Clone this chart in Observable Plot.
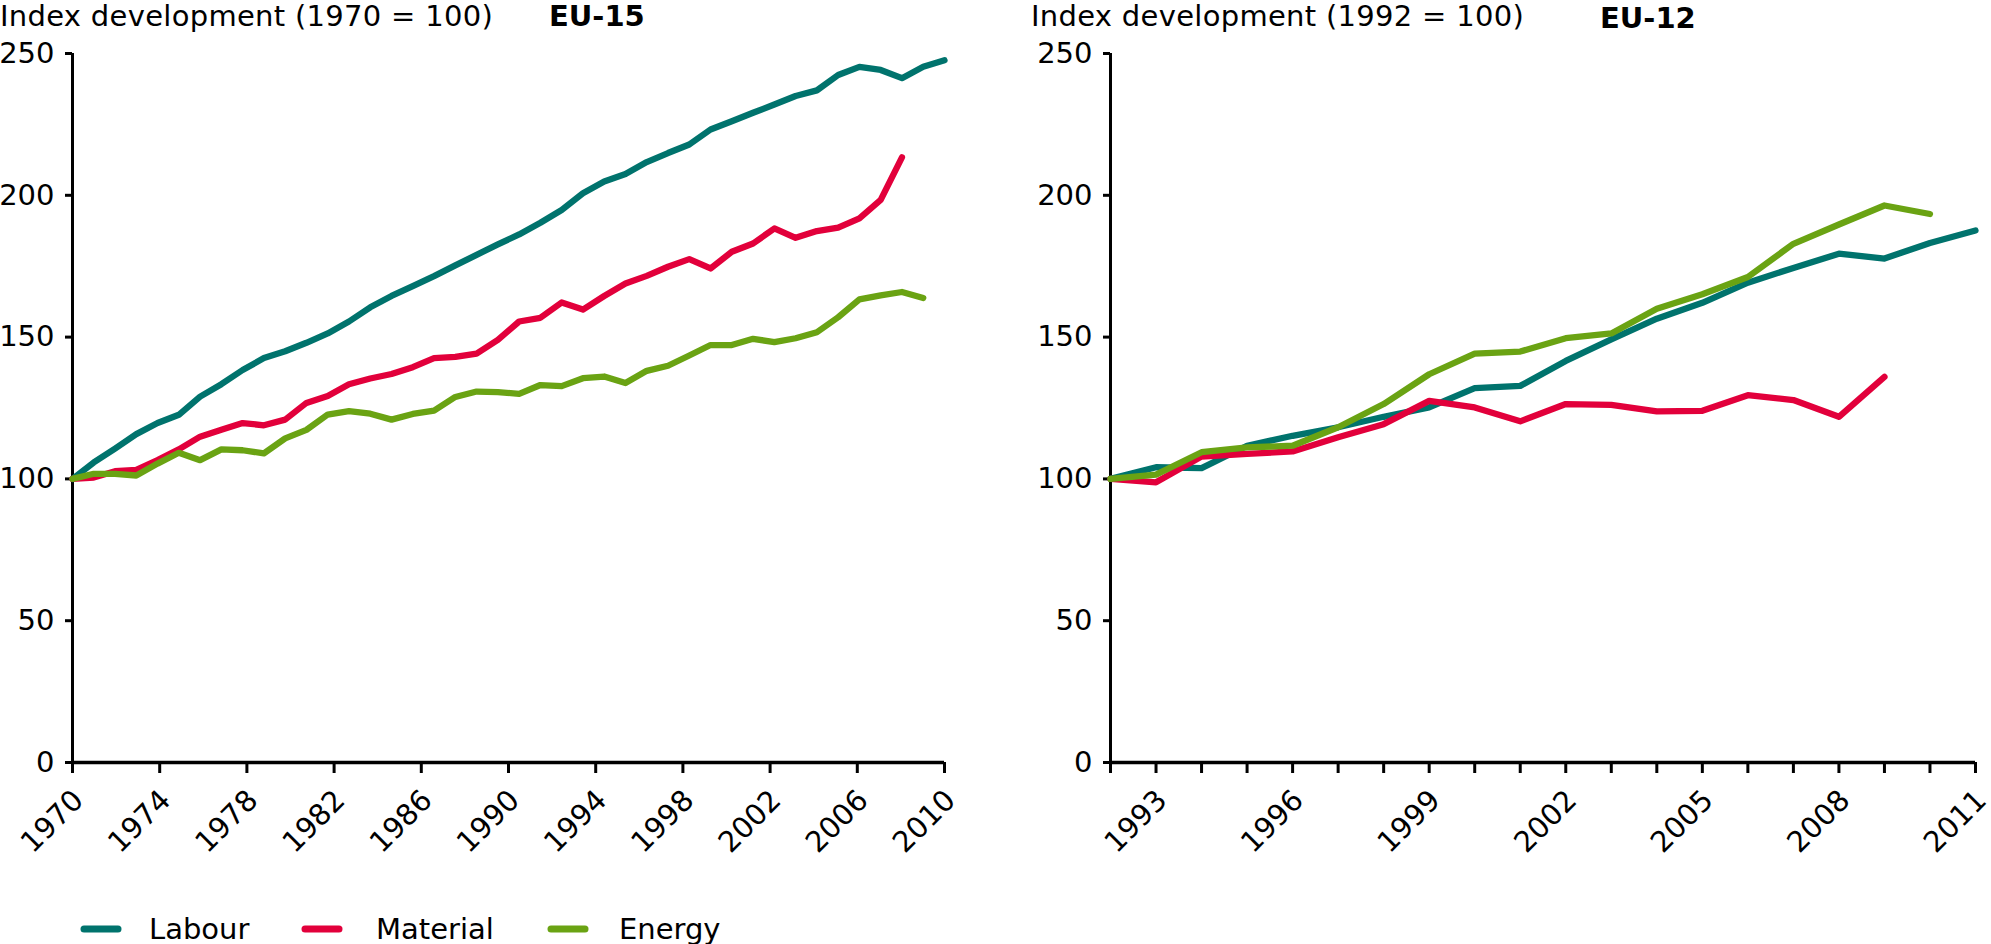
<!DOCTYPE html>
<html>
<head>
<meta charset="utf-8">
<script src="https://cdn.jsdelivr.net/npm/d3@7"></script>
<script src="https://cdn.jsdelivr.net/npm/@observablehq/plot@0.6"></script>
<style>
  html, body { margin: 0; padding: 0; background: #fff; }
  body { width: 1991px; height: 944px; overflow: hidden; position: relative; font-family: "DejaVu Sans", Verdana, sans-serif; }
  .abs { position: absolute; }
</style>
</head>
<body>
<div id="left" class="abs" style="left:0px;top:0px;"></div>
<div id="right" class="abs" style="left:1000px;top:0px;"></div>
<svg id="overlay" class="abs" width="1991" height="944" style="left:0;top:0;pointer-events:none;overflow:visible"></svg>
<script>
// ---------- data ----------
const seriesNames = ["Labour", "Material", "Energy"];
const seriesColors = ["#00736d", "#e2003b", "#6aa313"];

const yTicks = [0, 50, 100, 150, 200, 250];

// EU-15 (1970 = 100): observations spread evenly over the labelled span
const eu15Span = [1970, 2010];
const eu15TickLabels = [1970, 1974, 1978, 1982, 1986, 1990, 1994, 1998, 2002, 2006, 2010];
const eu15Labour = [100, 105.8, 110.7, 115.8, 119.7, 122.6, 129, 133.4, 138.4, 142.6,
  145, 148, 151.3, 155.5, 160.5, 164.5, 168, 171.5, 175.3, 179,
  182.7, 186.2, 190.3, 194.8, 200.7, 204.9, 207.5, 211.7, 214.9, 217.9,
  223.2, 226.1, 229.1, 232, 235, 237, 242.4, 245.3, 244.2, 241.3,
  245.3, 247.6];
const eu15Material = [100, 100.5, 102.7, 103.2, 106.6, 110.4, 114.9, 117.3, 119.7, 118.9,
  120.9, 126.8, 129.2, 133.4, 135.4, 137, 139.4, 142.6, 143, 144.2,
  149, 155.5, 156.8, 162.2, 159.7, 164.5, 168.9, 171.6, 174.8, 177.5,
  174.2, 180.1, 183, 188.3, 185, 187.4, 188.6, 191.9, 198.4, 213.4];
const eu15Energy = [100, 101.8, 101.8, 101.2, 105.4, 109.2, 106.6, 110.4, 110.1, 109,
  114.3, 117.3, 122.7, 123.9, 123, 120.9, 122.9, 124.1, 128.9, 130.8,
  130.6, 130, 133.1, 132.7, 135.5, 136.1, 133.8, 138.1, 139.9, 143.5,
  147.2, 147.2, 149.4, 148.2, 149.6, 151.7, 157, 163.3, 164.7, 165.9,
  163.8];

// EU-12 (1992 = 100)
const eu12Years = [1992, 1993, 1994, 1995, 1996, 1997, 1998, 1999, 2000, 2001,
  2002, 2003, 2004, 2005, 2006, 2007, 2008, 2009, 2010, 2011];
const eu12TickLabels = [1993, 1996, 1999, 2002, 2005, 2008, 2011];
const eu12Labour = [100, 104.1, 103.8, 111.7, 115.2, 118.2, 121.9, 125.2, 132, 132.8,
  141.6, 149.2, 156.5, 162.1, 169.2, 174.4, 179.4, 177.7, 183.2, 187.6];
const eu12Material = [100, 98.8, 107.9, 108.8, 109.7, 114.7, 119.3, 127.5, 125.2, 120.3,
  126.4, 126.1, 123.8, 124, 129.5, 127.8, 121.9, 136];
const eu12Energy = [100, 101.5, 109.4, 111.1, 111.7, 118.2, 126.4, 136.9, 144.2, 144.9,
  149.6, 151.3, 160, 165.1, 171.2, 182.9, 189.7, 196.4, 193.4];

// ---------- helpers ----------
const FONT = "DejaVu Sans";
const FS = 29;

function eu15Rows(values, name) {
  const n = eu15Labour.length; // number of observation slots across the span
  const step = (eu15Span[1] - eu15Span[0]) / (n - 1);
  return values.map((v, i) => ({t: eu15Span[0] + i * step, v, name}));
}
function eu12Rows(values, name) {
  return values.map((v, i) => ({t: eu12Years[i], v, name}));
}

function lineMarks(rowsList) {
  return rowsList.map((rows, k) => Plot.line(rows, {
    x: "t", y: "v", stroke: seriesColors[k], strokeWidth: 6.3,
    strokeLinejoin: "round", strokeLinecap: "round"
  }));
}

function panel({width, marginLeft, marginRight, xDomain, tickYears, labelYears, rowsList}) {
  return Plot.plot({
    width, height: 880,
    marginLeft, marginRight, marginTop: 53, marginBottom: 118,
    style: {fontFamily: FONT, fontSize: FS + "px", background: "transparent", overflow: "visible", maxWidth: "none", color: "#000"},
    x: {domain: xDomain, axis: null},
    y: {domain: [0, 250], axis: null},
    marks: [
      Plot.axisY({ticks: yTicks, tickSize: 7, tickPadding: 11, strokeWidth: 3, label: null, fontSize: FS, tickFormat: d => String(d)}),
      Plot.axisX({ticks: tickYears, tickSize: 11, strokeWidth: 3, label: null, tickFormat: () => ""}),
      Plot.axisX({ticks: labelYears, tickSize: 0, tickPadding: 33, tickRotate: -45, label: null, fontSize: FS, dx: 6, tickFormat: d => String(d)}),
      Plot.ruleX([xDomain[0]], {y1: 0, y2: 250, strokeWidth: 3, stroke: "#000"}),
      Plot.ruleY([0], {x1: xDomain[0], x2: xDomain[1], strokeWidth: 3.5, stroke: "#000"}),
      ...lineMarks(rowsList)
    ]
  });
}

// ---------- left: EU-15 ----------
document.getElementById("left").appendChild(panel({
  width: 1000, marginLeft: 72, marginRight: 56,
  xDomain: eu15Span, tickYears: eu15TickLabels, labelYears: eu15TickLabels,
  rowsList: [eu15Rows(eu15Labour, "Labour"), eu15Rows(eu15Material, "Material"), eu15Rows(eu15Energy, "Energy")]
}));

// ---------- right: EU-12 ----------
document.getElementById("right").appendChild(panel({
  width: 991, marginLeft: 110, marginRight: 16,
  xDomain: [eu12Years[0], eu12Years[eu12Years.length - 1]], tickYears: eu12Years, labelYears: eu12TickLabels,
  rowsList: [eu12Rows(eu12Labour, "Labour"), eu12Rows(eu12Material, "Material"), eu12Rows(eu12Energy, "Energy")]
}));

// ---------- titles & legend ----------
const ov = d3.select("#overlay");
function txt(x, y, s, bold, spacing) {
  ov.append("text").attr("x", x).attr("y", y).attr("font-family", FONT).attr("font-size", FS)
    .attr("font-weight", bold ? "bold" : "normal").attr("letter-spacing", spacing || 0)
    .attr("fill", "#000").text(s);
}
txt(0, 26, "Index development (1970 = 100)", false, 0.3);
txt(549, 26, "EU-15", true);
txt(1031, 26, "Index development (1992 = 100)", false, 0.3);
txt(1600, 28, "EU-12", true);

const legendX = [[81, 149], [302, 376], [548, 619]];
seriesNames.forEach((name, k) => {
  const [sx, tx] = legendX[k];
  ov.append("line").attr("x1", sx + 3).attr("x2", sx + 37).attr("y1", 929).attr("y2", 929)
    .attr("stroke", seriesColors[k]).attr("stroke-width", 7).attr("stroke-linecap", "round");
  txt(tx, 939, name);
});
</script>
</body>
</html>
